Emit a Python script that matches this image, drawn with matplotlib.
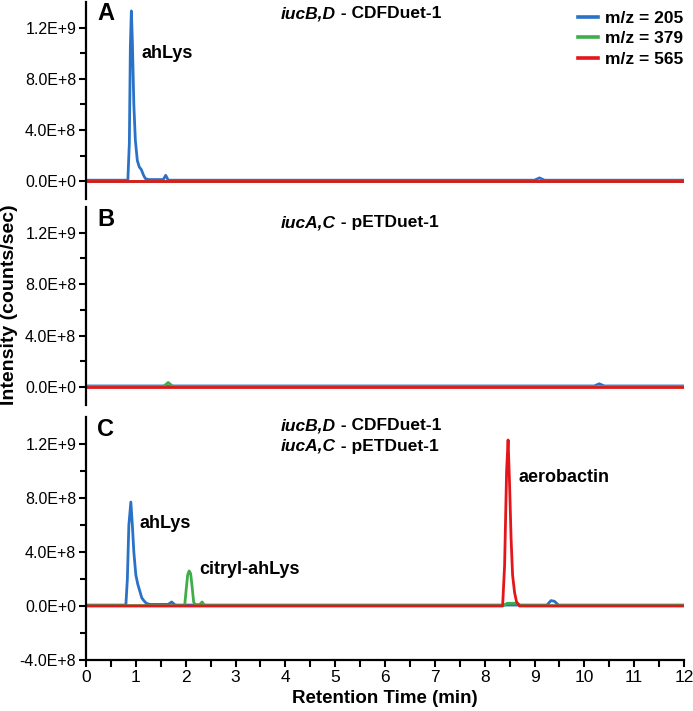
import matplotlib
matplotlib.use("Agg")
import matplotlib.pyplot as plt
from matplotlib.ticker import FixedLocator, MultipleLocator, FuncFormatter
from matplotlib.lines import Line2D
import numpy as np

plt.rcParams['font.family'] = ['Liberation Sans', 'DejaVu Sans']

# ---- data (hand) ----
labels = ['m/z = 205', 'm/z = 379', 'm/z = 565']
colors = ['#2a72c8', '#3fae49', '#e2161b']

# panel A : iucB,D - CDFDuet-1
a_blue_t = [0, 0.84, 0.87, 0.89, 0.91, 0.93, 0.96, 0.99, 1.03, 1.07, 1.11, 1.15, 1.19, 1.25,
            1.55, 1.60, 1.65, 9.0, 9.1, 9.2, 12]
a_blue_y = [7e6, 7e6, 3.0e8, 1.05e9, 1.33e9, 1.1e9, 6.0e8, 3.2e8, 1.6e8, 1.1e8, 9.0e7, 5.0e7,
            2.0e7, 1.2e7, 1.2e7, 4.5e7, 7e6, 7e6, 2.5e7, 7e6, 7e6]
a_green_t = [0, 12]
a_green_y = [3e6, 3e6]
a_red_t = [0, 12]
a_red_y = [0, 0]

# panel B : iucA,C - pETDuet-1
b_blue_t = [0, 10.2, 10.3, 10.4, 12]
b_blue_y = [8e6, 8e6, 2.5e7, 8e6, 8e6]
b_green_t = [0, 1.55, 1.65, 1.75, 12]
b_green_y = [3e6, 3e6, 3.5e7, 3e6, 3e6]
b_red_t = [0, 12]
b_red_y = [0, 0]

# panel C : both plasmids
c_blue_t = [0, 0.80, 0.83, 0.86, 0.90, 0.93, 0.96, 1.00, 1.04, 1.08, 1.12, 1.16, 1.21, 1.28,
            1.65, 1.72, 1.79, 9.25, 9.33, 9.40, 9.48, 12]
c_blue_y = [7e6, 7e6, 2.0e8, 6.0e8, 7.7e8, 6.0e8, 4.0e8, 2.3e8, 1.6e8, 1.1e8, 6.0e7, 4.0e7,
            2.0e7, 1.2e7, 1.2e7, 3.0e7, 7e6, 7e6, 4.0e7, 3.5e7, 7e6, 7e6]
c_green_t = [0, 1.98, 2.01, 2.04, 2.07, 2.10, 2.13, 2.16, 2.19, 2.28, 2.33, 2.38,
             8.38, 8.45, 8.65, 8.72, 12]
c_green_y = [3e6, 3e6, 1.2e8, 2.3e8, 2.6e8, 2.4e8, 1.4e8, 3.0e7, 1.0e7, 1.0e7, 3.0e7, 3e6,
             3e6, 2.0e7, 2.0e7, 3e6, 3e6]
c_red_t = [0, 8.36, 8.40, 8.44, 8.47, 8.50, 8.53, 8.56, 8.60, 8.64, 8.70, 12]
c_red_y = [0, 0, 3.0e8, 1.0e9, 1.23e9, 9.0e8, 5.0e8, 2.3e8, 1.0e8, 3.0e7, 0, 0]

panels = [
    ('A', [(a_blue_t, a_blue_y), (a_green_t, a_green_y), (a_red_t, a_red_y)]),
    ('B', [(b_blue_t, b_blue_y), (b_green_t, b_green_y), (b_red_t, b_red_y)]),
    ('C', [(c_blue_t, c_blue_y), (c_green_t, c_green_y), (c_red_t, c_red_y)]),
]

W, H = 693, 711
fig = plt.figure(figsize=(W / 100, H / 100), dpi=100)

# pixel boxes: (top, bottom)
boxes = [(2, 199), (207, 405), (417, 660)]
ylims = [(-1.4e8, 1.4e9), (-1.4e8, 1.4e9), (-4e8, 1.4e9)]
left, right = 86, 684


def sci(v, pos=None):
    if abs(v) < 1:
        return '0.0E+0'
    e = int(np.floor(np.log10(abs(v))))
    m = v / 10 ** e
    return f'{m:.1f}E+{e}'


axes = []
for i, (top, bot) in enumerate(boxes):
    ax = fig.add_axes([left / W, (H - bot) / H, (right - left) / W, (bot - top) / H])
    axes.append(ax)
    letter, series = panels[i]
    for (t, y), c in zip(series, colors):
        ax.plot(t, y, color=c, lw=2.0, solid_joinstyle='round')
    ax.set_xlim(0, 12)
    ax.set_ylim(*ylims[i])
    for s in ['top', 'right']:
        ax.spines[s].set_visible(False)
    ax.spines['left'].set_linewidth(1.6)
    ax.spines['bottom'].set_linewidth(1.6)
    ymaj = [0, 4e8, 8e8, 1.2e9] if i < 2 else [-4e8, 0, 4e8, 8e8, 1.2e9]
    ymin = [2e8, 6e8, 1e9] if i < 2 else [-2e8, 2e8, 6e8, 1e9]
    ax.yaxis.set_major_locator(FixedLocator(ymaj))
    ax.yaxis.set_minor_locator(FixedLocator(ymin))
    ax.yaxis.set_major_formatter(FuncFormatter(sci))
    ax.tick_params(axis='y', which='major', direction='out', length=5, width=1.5,
                   labelsize=11.5, pad=2)
    ax.tick_params(axis='y', which='minor', direction='out', length=4, width=1.5)
    if i < 2:
        ax.spines['bottom'].set_visible(False)
        ax.set_xticks([])
    else:
        ax.xaxis.set_major_locator(MultipleLocator(1))
        ax.xaxis.set_minor_locator(MultipleLocator(0.5))
        ax.tick_params(axis='x', which='both', direction='out', length=5, width=1.5,
                       labelsize=12.5, pad=2)
        ax.set_xlabel('Retention Time (min)', fontsize=13.5, fontweight='bold', labelpad=4)
    h = bot - top
    ax.text(11 / 598, 1 - 12 / h, letter, transform=ax.transAxes, fontsize=17,
            fontweight='bold', va='center', ha='left')

# titles
dash_x = (336 - left) / (right - left)


def title(ax, ypix, h, gene, vec):
    yy = 1 - ypix / h
    ax.text(dash_x, yy, gene, transform=ax.transAxes, fontsize=12.5, fontweight='bold',
            fontstyle='italic', ha='right', va='center')
    ax.text(dash_x, yy, ' - ' + vec, transform=ax.transAxes, fontsize=12.5,
            fontweight='bold', ha='left', va='center')


title(axes[0], 12, 197, 'iucB,D', 'CDFDuet-1')
title(axes[1], 16, 198, 'iucA,C', 'pETDuet-1')
title(axes[2], 9, 243, 'iucB,D', 'CDFDuet-1')
title(axes[2], 29, 243, 'iucA,C', 'pETDuet-1')

# peak labels
bold = dict(fontsize=13, fontweight='bold', va='center', ha='left')
axes[0].text(1.12, 1.0e9, 'ahLys', **bold)
axes[2].text(1.08, 6.1e8, 'ahLys', **bold)
axes[2].text(2.27, 2.7e8, 'citryl-ahLys', **bold)
axes[2].text(8.67, 9.5e8, 'aerobactin', **bold)

# legend
handles = [Line2D([], [], color=c, lw=2.6) for c in colors]
axes[0].legend(handles, labels, loc='upper right', bbox_to_anchor=(0.998, 0.955),
               frameon=False, prop={'weight': 'bold', 'size': 12.5}, handlelength=1.15,
               handletextpad=0.4, labelspacing=0.3, borderpad=0, borderaxespad=0)

fig.text(10 / W, 1 - 305 / H, 'Intensity (counts/sec)', rotation=90, fontsize=14,
         fontweight='bold', ha='center', va='center')

fig.savefig('out.png', dpi=100)
